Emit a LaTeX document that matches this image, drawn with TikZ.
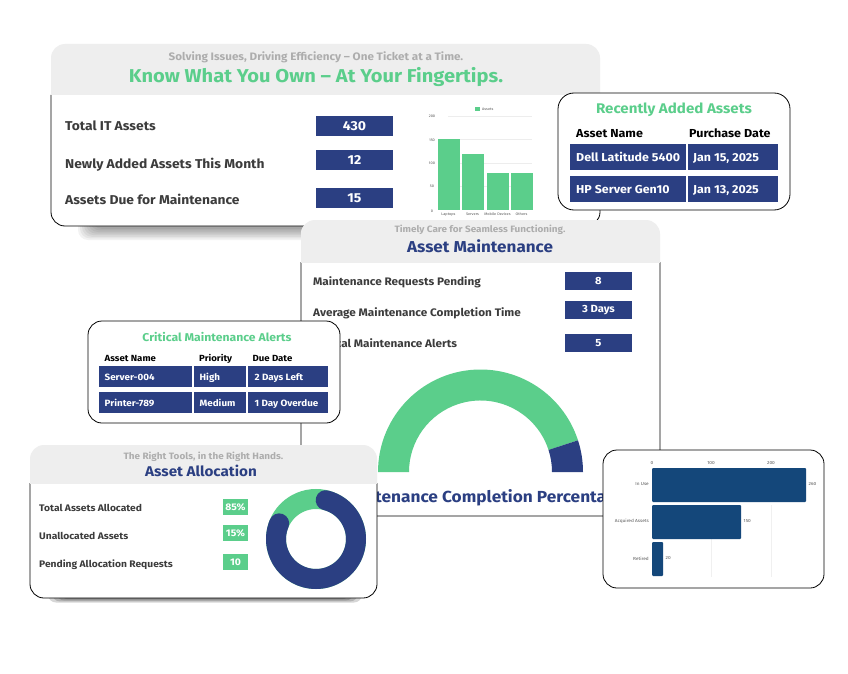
\documentclass[tikz,border=0pt]{standalone}
\usepackage{fontspec}
\setmainfont{Fira Sans}[FakeStretch=1.08]
\usetikzlibrary{calc}
\definecolor{cardgreen}{HTML}{5BCE8B}
\definecolor{cardnavy}{HTML}{2B3F82}
\definecolor{headgray}{HTML}{EEEEEE}
\definecolor{subgray}{HTML}{ADADAD}
\definecolor{labelgray}{HTML}{3C3C3C}
\definecolor{barblue}{HTML}{14477A}
\newcommand{\fs}[1]{\fontsize{#1}{#1}\selectfont}
% left, top, right, bottom, foot of the grey head
\newcommand{\cardframe}[5]{
 \fill[white, rounded corners=14] (#1,#2) rectangle (#3,#4);
 \draw[cardline] (#1,#5) -- (#1,#4) -- (#3,#4) -- (#3,#5);
 \begin{scope}
  \clip (#1-1,#2-1) rectangle (#3+1,#5);
  \fill[headgray, rounded corners=14] (#1,#2) rectangle (#3,#5+30);
 \end{scope}
}
\tikzset{
  cardline/.style={black, line width=.8pt, rounded corners=14},
  subtitle/.style={text=subgray, font=\fs{#1}\bfseries, inner sep=0},
  cardtitle/.style={font=\fs{#1}\bfseries, inner sep=0},
  rowlabel/.style={text=labelgray, anchor=base west, font=\fs{#1}\bfseries, inner sep=0},
  valbox/.style={fill=cardnavy, text=white, font=\fs{#1}\bfseries, inner sep=0},
  tablehead/.style={black, anchor=base west, font=\fs{#1}\bfseries, inner sep=0},
  tablecell/.style={text=white, anchor=base west, font=\fs{#1}\bfseries, inner sep=0},
  ticklabel/.style={text=black!65, font=\fs{#1}, inner sep=0},
}
\begin{document}
\begin{tikzpicture}[x=1pt, y=-1pt]
\useasboundingbox (0,0) rectangle (848,674);
\fill[white] (0,0) rectangle (848,674);

% stock card
\foreach \s in {0,...,7} {
 \fill[black, opacity=.05, rounded corners=10] (78+2*\s,205) rectangle (320,240-1.6*\s);
}
\cardframe{51}{44}{600}{226}{95}
\node[subtitle=10.8] (stocksub) at (316,57) {Solving Issues, Driving Efficiency – One Ticket at a Time.};
\node[cardtitle=18.6, text=cardgreen] (stocktitle) at (316,77) {Know What You Own – At Your Fingertips.};
\foreach \ypos/\boxpos/\lab/\val [count=\i] in {131/126/Total IT Assets/430, 168/160/Newly Added Assets This Month/12, 204/198/Assets Due for Maintenance/15} {
 \node[rowlabel=12.8] (stocklab\i) at (65,\ypos) {\lab};
 \node[valbox=13, minimum width=77, minimum height=20] (stockval\i) at (354.5,\boxpos) {\val};
}

% column chart
\foreach \y/\val in {116/200, 139/150, 163/100, 186/50} {
 \draw[black!7, line width=.3pt] (448,\y) -- (532,\y);
}
\foreach \y/\val [count=\i] in {116/200, 140/150, 163/100, 186/50, 211/0} {
 \node[ticklabel=3.6] (coltick\i) at (432,\y) {\val};
}
\fill[cardgreen] (474.5,107) rectangle (479.5,111.5);
\node[ticklabel=3.6, anchor=west] (colkey) at (482,109.2) {Assets};
\foreach \x/\top/\lab [count=\i] in {438/139/Laptops, 462/154/Servers, 487/173/Mobile Devices, 511/173/Others} {
 \fill[cardgreen] (\x,\top) rectangle (\x+21.5,210);
 \node[ticklabel=3.6] (collab\i) at (\x+10.5,214.5) {\lab};
}

% maintenance card
\cardframe{301}{220}{660}{516}{262}
\node[subtitle=9.2] (caresub) at (480,229.5) {Timely Care for Seamless Functioning.};
\node[cardtitle=15.8, text=cardnavy] (caretitle) at (480,246.5) {Asset Maintenance};
\foreach \ypos/\boxpos/\lab/\val [count=\i] in {285/281/Maintenance Requests Pending/8, 316/310/Average Maintenance Completion Time/3 Days, 347/343/Critical Maintenance Alerts/5} {
 \node[rowlabel=10.9] (carelab\i) at (313,\ypos) {\lab};
 \node[valbox=10.4, minimum width=67, minimum height=18] (careval\i) at (598.5,\boxpos) {\val};
}
\fill[cardgreen] (378,472) arc[start angle=-180, end angle=-18, radius=102.5] -- ($(480.5,472)+(-18:71.5)$) arc[start angle=-18, end angle=-180, radius=71.5] -- cycle;
\fill[cardnavy] (583,472) arc[start angle=0, end angle=-18, radius=102.5] -- ($(480.5,472)+(-18:71.5)$) arc[start angle=-18, end angle=0, radius=71.5] -- cycle;
\node[cardtitle=16, text=cardnavy] (gaugelab) at (481,497.5) {Maintenance Completion Percentage};

% recently added card
\draw[cardline, fill=white, rounded corners=16] (558,93) rectangle (790,210);
\node[cardtitle=14, text=cardgreen] (recenttitle) at (674,109.5) {Recently Added Assets};
\node[tablehead=11.6] (recenthead1) at (576,137.5) {Asset Name};
\node[tablehead=11.6] (recenthead2) at (689,137.5) {Purchase Date};
\foreach \ypos/\nam/\dat [count=\i] in {157/Dell Latitude 5400/{Jan 15, 2025}, 188.5/HP Server Gen10/{Jan 13, 2025}} {
 \fill[cardnavy] (570,\ypos-13) rectangle (686,\ypos+13);
 \fill[cardnavy] (688,\ypos-13) rectangle (778,\ypos+13);
 \node[tablecell=11.5] (recentname\i) at (576,\ypos+4.8) {\nam};
 \node[tablecell=11.5] (recentdate\i) at (693,\ypos+4.8) {\dat};
}

% alerts card
\draw[cardline, fill=white, rounded corners=14] (88,321) rectangle (340,423);
\node[cardtitle=11.3, text=cardgreen] (alerttitle) at (217,337.5) {Critical Maintenance Alerts};
\node[tablehead=8.9] (alerthead1) at (104.5,361.5) {Asset Name};
\node[tablehead=8.9] (alerthead2) at (199,361.5) {Priority};
\node[tablehead=8.9] (alerthead3) at (252.5,361.5) {Due Date};
\foreach \ypos/\nam/\lev/\due [count=\i] in {376.5/Server-004/High/2 Days Left, 402.5/Printer-789/Medium/1 Day Overdue} {
 \fill[cardnavy] (99,\ypos-10.5) rectangle (192,\ypos+10.5);
 \fill[cardnavy] (194,\ypos-10.5) rectangle (246,\ypos+10.5);
 \fill[cardnavy] (248,\ypos-10.5) rectangle (328,\ypos+10.5);
 \node[tablecell=9.1] (alertname\i) at (104.5,\ypos+4) {\nam};
 \node[tablecell=9.1] (alertlevel\i) at (199.5,\ypos+4) {\lev};
 \node[tablecell=9.1] (alertdue\i) at (254.5,\ypos+4) {\due};
}

% allocation card
\foreach \s in {0,...,3} {
 \fill[black, opacity=.16, rounded corners=8] (48+4*\s,585) rectangle (362-4*\s,602.5-1.1*\s);
}
\cardframe{30}{445}{377}{598}{483}
\node[subtitle=9.2] (allotsub) at (203.5,456.5) {The Right Tools, in the Right Hands.};
\node[cardtitle=14.1, text=cardnavy] (allottitle) at (201,471) {Asset Allocation};
\foreach \ypos/\boxpos/\lab/\val [count=\i] in {511/507/Total Assets Allocated/85\%, 539/533/Unallocated Assets/15\%, 567/562/Pending Allocation Requests/10} {
 \node[rowlabel=9.5] (allotlab\i) at (39,\ypos) {\lab};
 \node[fill=cardgreen, text=white, font=\fs{9.6}\bfseries, inner sep=0, minimum width=25, minimum height=16] (allotval\i) at (235.5,\boxpos) {\val};
}
\draw[cardgreen, line width=20pt] (316,539) circle[radius=40];
\draw[cardnavy, line width=20pt, line cap=round] ($(316,539)+(-76:40)$) arc[start angle=-76, end angle=203, radius=40];

% horizontal bar card
\draw[cardline, fill=white, rounded corners=14] (603,450) rectangle (824,588);
\draw[black!6, line width=.3pt] (711,505) -- (711,577);
\draw[black!6, line width=.3pt] (771,505) -- (771,577);
\foreach \x/\val [count=\i] in {652/0, 711/100, 771/200} {
 \node[ticklabel=4.4] (bartick\i) at (\x,463.5) {\val};
}
\foreach \top/\tip/\lab/\val [count=\i] in {468/806/In Use/260, 505/741/Acquired Assets/150, 542/663/Retired/20} {
 \fill[barblue, rounded corners=1] (652,\top) rectangle (\tip,\top+34);
 \node[ticklabel=4.4, anchor=east] (barlab\i) at (649,\top+16.5) {\lab};
 \node[ticklabel=4.4, anchor=west] (barval\i) at (\tip+2.5,\top+16.5) {\val};
}
\end{tikzpicture}
\end{document}
